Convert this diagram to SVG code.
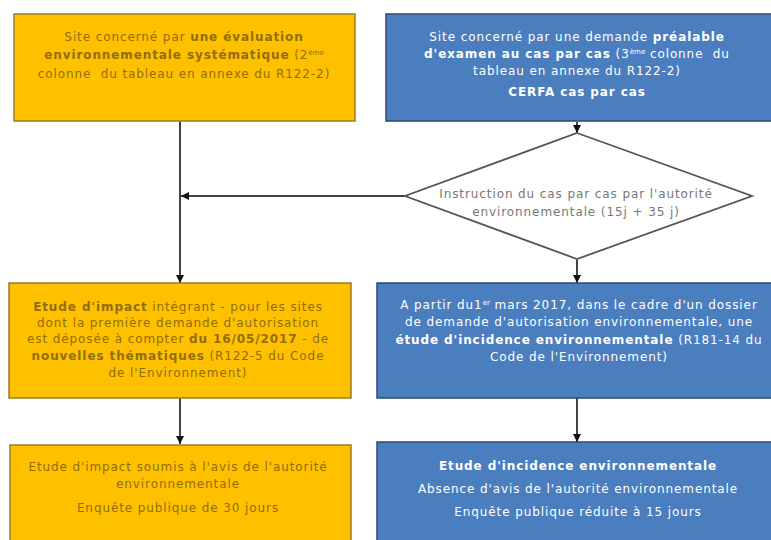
<svg xmlns="http://www.w3.org/2000/svg" width="771" height="540" viewBox="0 0 771 540">
<defs>
<marker id="ah" viewBox="0 0 10 10" refX="10" refY="5" markerWidth="4" markerHeight="4" orient="auto" markerUnits="strokeWidth">
<path d="M0,0 L10,5 L0,10 z" fill="#111"/>
</marker>
<style>
.or{fill:#FFC000;stroke:#9a7d25;stroke-width:1.5}
.bl{fill:#4A7EBF;stroke:#2c4a73;stroke-width:1.5}
.dm{fill:#ffffff;stroke:#555;stroke-width:1.8}
text{font-family:"DejaVu Sans","Liberation Sans",sans-serif;font-size:12px;letter-spacing:0.9px;text-anchor:middle;white-space:pre}
.to{fill:#8f6e0a}
.tb{fill:#ffffff}
.td{fill:#777}
.b{font-weight:bold}
.sup{font-size:7px;letter-spacing:0}
.c{fill:none;stroke:#444;stroke-width:2}
</style>
</defs>
<rect width="771" height="540" fill="#fff"/>
<g id="connectors">
<line class="c" x1="180" y1="121" x2="180" y2="283" marker-end="url(#ah)"/>
<line class="c" x1="405" y1="196" x2="181" y2="196" marker-end="url(#ah)"/>
<line class="c" x1="180" y1="398" x2="180" y2="444" marker-end="url(#ah)"/>
<line class="c" x1="577" y1="122" x2="577" y2="133" marker-end="url(#ah)"/>
<line class="c" x1="577" y1="260" x2="577" y2="283" marker-end="url(#ah)"/>
<line class="c" x1="577" y1="398" x2="577" y2="442" marker-end="url(#ah)"/>
</g>
<g id="n1">
<rect class="or" x="14" y="14" width="341" height="107"/>
<text class="to" x="184" y="41">Site concerné par <tspan class="b">une évaluation</tspan></text>
<text class="to" x="184" y="59"><tspan class="b">environnementale systématique</tspan> (2<tspan class="sup" dy="-4">ème</tspan></text>
<text class="to" x="184" y="78">colonne  du tableau en annexe du R122-2)</text>
</g>
<g id="n2">
<rect class="bl" x="386" y="14" width="390" height="107"/>
<text class="tb" x="577" y="41">Site concerné par une demande <tspan class="b">préalable</tspan></text>
<text class="tb" x="577" y="58"><tspan class="b">d'examen au cas par cas</tspan> (3<tspan class="sup" dy="-4">ème</tspan><tspan dy="4"> colonne  du</tspan></text>
<text class="tb" x="577" y="75">tableau en annexe du R122-2)</text>
<text class="tb b" x="577" y="96">CERFA cas par cas</text>
</g>
<g id="n3">
<polygon class="dm" points="577,133 752,196 577,259 405,196"/>
<text class="td" x="576" y="198">Instruction du cas par cas par l'autorité</text>
<text class="td" x="576" y="216">environnementale (15j + 35 j)</text>
</g>
<g id="n4">
<rect class="or" x="9" y="283" width="342" height="115"/>
<text class="to" x="178" y="311"><tspan class="b">Etude d'impact</tspan> intégrant - pour les sites</text>
<text class="to" x="178" y="327">dont la première demande d'autorisation</text>
<text class="to" x="178" y="343">est déposée à compter <tspan class="b">du 16/05/2017</tspan> - de</text>
<text class="to" x="178" y="360"><tspan class="b">nouvelles thématiques</tspan> (R122-5 du Code</text>
<text class="to" x="178" y="377">de l'Environnement)</text>
</g>
<g id="n5">
<rect class="bl" x="377" y="283" width="399" height="115"/>
<text class="tb" x="579" y="309">A partir du1<tspan class="sup" dy="-4">er</tspan><tspan dy="4"> mars 2017, dans le cadre d'un dossier</tspan></text>
<text class="tb" x="579" y="326">de demande d'autorisation environnementale, une</text>
<text class="tb" x="579" y="344"><tspan class="b">étude d'incidence environnementale</tspan> (R181-14 du</text>
<text class="tb" x="579" y="361">Code de l'Environnement)</text>
</g>
<g id="n6">
<rect class="or" x="10" y="445" width="341" height="110"/>
<text class="to" x="178" y="471">Etude d'impact soumis à l'avis de l'autorité</text>
<text class="to" x="178" y="488">environnementale</text>
<text class="to" x="178" y="512">Enquête publique de 30 jours</text>
</g>
<g id="n7">
<rect class="bl" x="377" y="442" width="399" height="110"/>
<text class="tb b" x="578" y="470">Etude d'incidence environnementale</text>
<text class="tb" x="578" y="493">Absence d'avis de l'autorité environnementale</text>
<text class="tb" x="578" y="516">Enquête publique réduite à 15 jours</text>
</g>
</svg>
